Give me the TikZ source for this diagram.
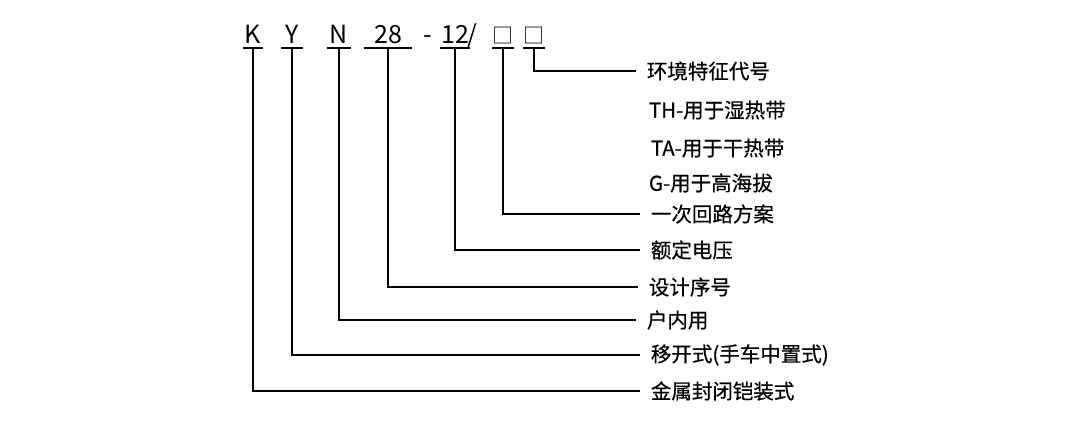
\documentclass[tikz,border=0pt]{standalone}
\usepackage{fontspec}
\setmainfont{Noto Sans CJK SC}
\newfontfamily\labelfont{Noto Sans CJK SC}[FakeBold=0.5]
\usetikzlibrary{positioning}
\begin{document}
\begin{tikzpicture}[x=1pt, y=-1pt, line width=1.8pt,
    code node/.style={font=\fontsize{25}{25}\selectfont, inner xsep=0pt, inner ysep=3pt, anchor=base},
    box node/.style={code node, font=\fontsize{21}{21}\selectfont, minimum width=19pt},
    label node/.style={font=\labelfont\fontsize{20.5}{20.5}\selectfont, inner xsep=10pt, inner ysep=0pt, anchor=west}]
    \useasboundingbox (0,0) rectangle (1080,427);
    % model code
    \node[code node, minimum width=18pt] (k) at (253,44) {K};
    \node[code node, minimum width=20pt] (y) at (292,44) {Y};
    \node[code node, minimum width=23pt] (n) at (339,44) {N};
    \node[code node, minimum width=47pt] (no) at (388,44) {28};
    \node[code node] (dash) at (428,44) {-};
    \node[code node, minimum width=24pt] (kv) at (455,44) {12};
    \node[code node] (slash) at (472,44) {/};
    \node[box node] (box1) at (503,44) {□};
    \node[box node] (box2) at (534,44) {□};
    \draw (k.south west) -- (k.south east);
    \draw (y.south west) -- (y.south east);
    \draw (n.south west) -- (n.south east);
    \draw (no.south west) -- (no.south east);
    \draw (kv.south west) -- (kv.south east);
    \draw (box1.south west) -- (box1.south east);
    \draw (box2.south west) -- (box2.south east);
    % meanings
    \node[label node] (env) at (636,71) {环境特征代号};
    \node[label node] (th) at (638,110) {TH-用于湿热带};
    \node[label node] (ta) at (640,148) {TA-用于干热带};
    \node[label node] (g) at (638,183) {G-用于高海拔};
    \node[label node] (circ) at (640,214) {一次回路方案};
    \node[label node] (volt) at (640,250) {额定电压};
    \node[label node] (design) at (638,287) {设计序号};
    \node[label node] (indoor) at (636,320) {户内用};
    \node[label node] (withdraw) at (640,355) {移开式(手车中置式)};
    \node[label node] (metal) at (640,391) {金属封闭铠装式};
    \draw (box2.south) |- (636,71);
    \draw (box1.south) |- (circ.west);
    \draw (kv.south) |- (volt.west);
    \draw (no.south) |- (design.west);
    \draw (n.south) |- (indoor.west);
    \draw (y.south) |- (withdraw.west);
    \draw (k.south) |- (metal.west);
\end{tikzpicture}
\end{document}
